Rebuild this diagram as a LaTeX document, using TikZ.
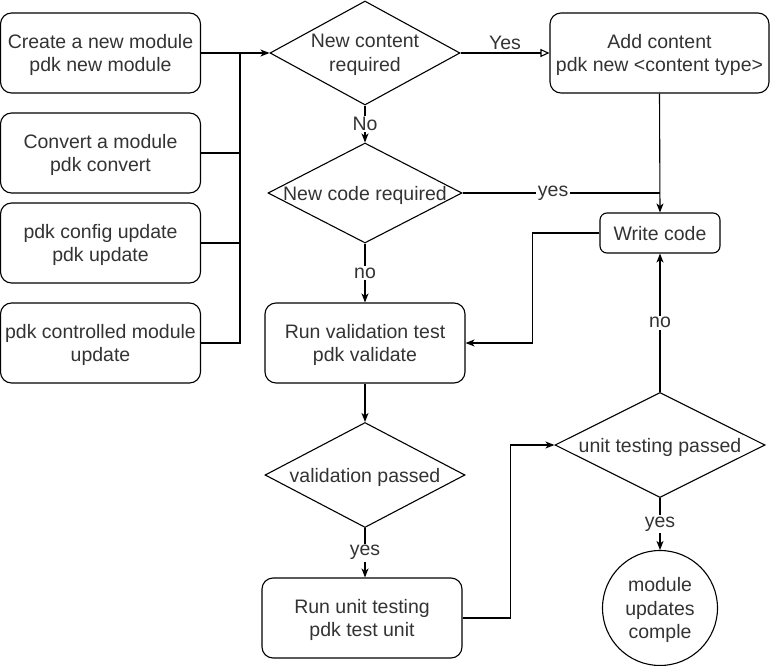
\documentclass[tikz,border=0pt]{standalone}
\usepackage{fontspec}
\setmainfont{Liberation Sans}
\usetikzlibrary{arrows.meta,shapes.geometric}

\begin{document}
\begin{tikzpicture}[x=1pt, y=-1pt, line width=1.1pt, text=black!80,
		font=\fontsize{19.5}{23.5}\selectfont,
		box/.style={draw, rounded corners=11pt, align=center, inner sep=0pt, text depth=0pt, minimum width=200pt, minimum height=80pt},
		dia/.style={draw, diamond, inner sep=0pt},
		txt/.style={align=center, text depth=0pt},
		lbl/.style={fill=white, inner sep=1.5pt},
		arr/.style={-{Stealth[length=9pt, width=7pt, inset=2.5pt]}}]
			%%%%% START %%%%%
			
			\useasboundingbox (0, 0) rectangle (771, 666);
			
			\node[box] (b1) at (100.5, 53) {Create a new module\\pdk new module};
			\node[box] (b2) at (100.5, 153) {Convert a module\\pdk convert};
			\node[box] (b3) at (100.5, 243) {pdk config update\\pdk update};
			\node[box] (b4) at (100.5, 343) {pdk controlled module\\update};
			
			\node[dia, minimum width=190pt, minimum height=104pt] (c1) at (365, 53) {};
			\node[txt] at (c1) {New content\\required};
			\node[box, minimum width=219pt] (a1) at (659.5, 53) {Add content\\pdk new <content type>};
			
			\node[dia, minimum width=194pt, minimum height=100pt] (c2) at (365, 193) {};
			\node[txt] at (c2) {New code required};
			\node[box, minimum width=120pt, minimum height=40pt, rounded corners=7pt] (w1) at (660, 233) {Write code};
			
			\node[box] (v1) at (365, 343) {Run validation test\\pdk validate};
			
			\node[dia, minimum width=200pt, minimum height=105pt] (c3) at (365, 475) {};
			\node[txt] at (c3) {validation passed};
			\node[box] (u1) at (362, 618) {Run unit testing\\pdk test unit};
			
			\node[dia, minimum width=210pt, minimum height=105pt] (c4) at (660, 445) {};
			\node[txt] at (c4) {unit testing passed};
			\node[draw, circle, minimum size=115pt, inner sep=0pt, txt] (done) at (660, 608) {module\\updates\\comple};
			
			%%%%% CONNECTORS %%%%%
			
			\coordinate (bus) at (240, 53);
			\draw[arr] (b1.east) -- (c1.west);
			\foreach \b in {b2,b3,b4}
				\draw (\b.east) -| (bus);
			
			\draw[-{Triangle[open, length=9pt, width=8pt]}] (c1.east) -- node[above=-1pt]{Yes} (a1.west);
			\draw[arr] (c1.south) -- node[lbl]{No} (c2.north);
			\draw (c2.east) -- node[lbl, pos=.46]{yes} (c2.east -| a1.south);
			\draw[arr] (a1.south) -- (w1.north);
			\draw[arr] (w1.west) -- ++(-67, 0) |- (v1.east);
			\draw[arr] (c2.south) -- node[lbl]{no} (v1.north);
			\draw[arr] (v1.south) -- (c3.north);
			\draw[arr] (c3.south) -- node[lbl]{yes} (c3.south |- u1.north);
			\draw[arr] (u1.east) -- ++(48, 0) |- (c4.west);
			\draw[arr] (c4.north) -- node[lbl]{no} (w1.south);
			\draw[arr] (c4.south) -- node[lbl]{yes} (done.north);
			
			%%%%% END %%%%%
		\end{tikzpicture}
\end{document}
